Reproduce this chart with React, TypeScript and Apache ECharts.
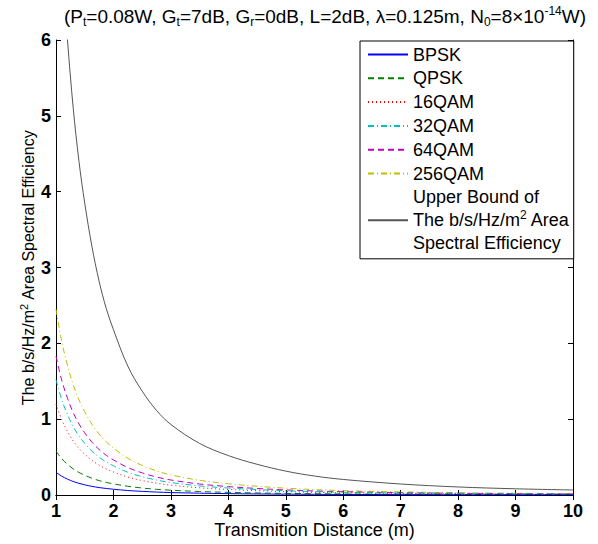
import React, { useEffect, useRef } from "react";
import * as echarts from "echarts";

const distances = [1, 1.1, 1.2, 1.3, 1.4, 1.5, 1.625, 1.75, 1.875, 2, 2.25, 2.5, 2.75, 3, 3.5, 4, 4.5, 5, 5.5, 6, 7, 8, 9, 10];

const bpsk = [0.3, 0.248, 0.209, 0.178, 0.154, 0.134, 0.114, 0.098, 0.086, 0.076, 0.059, 0.048, 0.039, 0.032, 0.024, 0.018, 0.014, 0.011, 0.0087, 0.0071, 0.0051, 0.0037, 0.0029, 0.0023];
const qpsk = [0.58, 0.479, 0.405, 0.344, 0.297, 0.26, 0.221, 0.19, 0.166, 0.147, 0.115, 0.092, 0.075, 0.063, 0.046, 0.035, 0.027, 0.021, 0.017, 0.0138, 0.0098, 0.0072, 0.0055, 0.0045];
const qam16 = [1.2, 0.991, 0.838, 0.712, 0.614, 0.538, 0.457, 0.394, 0.343, 0.304, 0.237, 0.191, 0.156, 0.13, 0.095, 0.073, 0.057, 0.044, 0.035, 0.0286, 0.0202, 0.0148, 0.0114, 0.0092];
const qam32 = [1.52, 1.256, 1.061, 0.901, 0.778, 0.681, 0.579, 0.499, 0.435, 0.385, 0.3, 0.242, 0.197, 0.164, 0.12, 0.092, 0.072, 0.056, 0.044, 0.036, 0.0256, 0.0187, 0.0145, 0.0117];
const qam64 = [1.83, 1.512, 1.277, 1.085, 0.937, 0.82, 0.697, 0.6, 0.523, 0.463, 0.362, 0.292, 0.237, 0.198, 0.145, 0.111, 0.086, 0.067, 0.053, 0.044, 0.0309, 0.0226, 0.0174, 0.014];
const qam256 = [2.45, 2.024, 1.71, 1.453, 1.254, 1.098, 0.933, 0.804, 0.701, 0.62, 0.484, 0.39, 0.318, 0.265, 0.194, 0.148, 0.115, 0.09, 0.071, 0.058, 0.0413, 0.0302, 0.0233, 0.0188];
const upperBound = [8.6, 7.1, 6.0, 5.1, 4.4, 3.85, 3.28, 2.82, 2.46, 2.18, 1.7, 1.37, 1.115, 0.93, 0.68, 0.52, 0.405, 0.315, 0.25, 0.205, 0.145, 0.106, 0.082, 0.066];

const seriesNames = ["BPSK", "QPSK", "16QAM", "32QAM", "64QAM", "256QAM", "Upper Bound"];
const xTicks = { min: 1, max: 10, interval: 1 };
const yTicks = { min: 0, max: 6, interval: 1 };

const FONT = "'Liberation Sans', Arial, sans-serif";

export default function App() {
  const ref = useRef<HTMLDivElement>(null);
  useEffect(() => {
    if (!ref.current) return;
    const chart = echarts.init(ref.current, null, { renderer: "svg" });
    const values = [bpsk, qpsk, qam16, qam32, qam64, qam256, upperBound];
    const colors = ["#0000ff", "#008000", "#ff0000", "#00bfbf", "#bf00bf", "#bfbf00", "#555555"];
    const dashes: any[] = ["solid", [6, 4], [1, 3], [6, 3, 1, 3], [6, 4], [6, 3, 1, 3], "solid"];
    const series = seriesNames.map((name, i) => ({
      name,
      type: "line",
      data: distances.map((d, j) => [d, values[i][j]]),
      showSymbol: false,
      symbol: "none",
      smooth: 0.35,
      clip: true,
      color: colors[i],
      lineStyle: { color: colors[i], width: 1, type: dashes[i] },
      z: 10 - i,
    }));
    const axisCommon = {
      axisLine: { show: true, lineStyle: { color: "#000", width: 1 } },
      axisTick: { show: true, inside: true, length: 5, lineStyle: { color: "#000" } },
      splitLine: { show: false },
    };
    chart.setOption({
      animation: false,
      backgroundColor: "#fff",
      textStyle: { fontFamily: FONT },
      title: {
        text: "(P{sub|t}=0.08W, G{sub|t}=7dB, G{sub|r}=0dB, L=2dB, λ=0.125m, N{sub|0}=8×10{sup|-14}W)",
        left: 320,
        top: -1,
        textAlign: "center",
        textStyle: {
          fontFamily: FONT,
          fontSize: 19,
          fontWeight: "normal",
          color: "#000",
          lineHeight: 24,
          rich: {
            sub: { fontFamily: FONT, fontSize: 12, color: "#000", padding: [11, 0, 0, 0], lineHeight: 24 },
            sup: { fontFamily: FONT, fontSize: 12, color: "#000", padding: [0, 0, 10, 0], lineHeight: 24 },
          },
        },
      },
      legend: {
        show: true,
        orient: "vertical",
        left: 360,
        top: 41,
        padding: [2, 4, 4, 7],
        itemWidth: 40,
        itemHeight: 14,
        itemGap: 0.8,
        backgroundColor: "#fff",
        borderColor: "#000",
        borderWidth: 1,
        borderRadius: 0,
        itemStyle: { opacity: 0, borderWidth: 0 },
        data: seriesNames,
        formatter: (name: string) =>
          name === "Upper Bound" ? "Upper Bound of\nThe b/s/Hz/m{sup|2} Area\nSpectral Efficiency" : name,
        textStyle: {
          fontFamily: FONT,
          fontSize: 18,
          color: "#000",
          lineHeight: 23,
          rich: {
            sup: { fontFamily: FONT, fontSize: 12, color: "#000", padding: [0, 0, 10, 0], lineHeight: 23 },
          },
        },
      },
      grid: { left: 56, right: 25, top: 40, bottom: 48, containLabel: false },
      xAxis: [
        {
          type: "value",
          position: "bottom",
          ...xTicks,
          ...axisCommon,
          axisLabel: { color: "#000", fontSize: 18, fontWeight: "bold", fontFamily: FONT, margin: 7, showMinLabel: true, showMaxLabel: true },
          name: "Transmition Distance (m)",
          nameLocation: "middle",
          nameGap: 26,
          nameMoveOverlap: false,
          nameTextStyle: { color: "#000", fontSize: 18, fontFamily: FONT },
        },
        {
          type: "value",
          position: "top",
          ...xTicks,
          ...axisCommon,
          axisLabel: { show: false },
        },
      ],
      yAxis: [
        {
          type: "value",
          position: "left",
          ...yTicks,
          ...axisCommon,
          axisLabel: { color: "#000", fontSize: 18, fontWeight: "bold", fontFamily: FONT, margin: 5, showMinLabel: true, showMaxLabel: true },
          name: "The b/s/Hz/m{sup|2} Area Spectral Efficiency",
          nameLocation: "middle",
          nameGap: 18,
          nameMoveOverlap: false,
          nameTextStyle: {
            color: "#000",
            fontSize: 16,
            fontFamily: FONT,
            lineHeight: 20,
            rich: {
              sup: { fontFamily: FONT, fontSize: 11, color: "#000", padding: [0, 0, 9, 0], lineHeight: 20 },
            },
          },
        },
        {
          type: "value",
          position: "right",
          ...yTicks,
          ...axisCommon,
          axisLabel: { show: false },
        },
      ],
      series,
    });
    return () => chart.dispose();
  }, []);
  return (
    <div
      ref={ref}
      style={{ position: "fixed", left: 0, top: 0, width: 598, height: 544, background: "#fff" }}
    />
  );
}
